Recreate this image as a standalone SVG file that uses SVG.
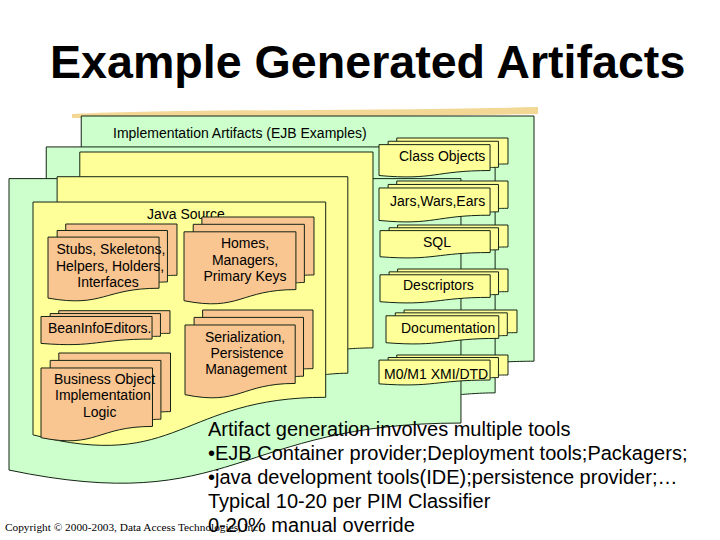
<svg xmlns="http://www.w3.org/2000/svg" xmlns:xlink="http://www.w3.org/1999/xlink" width="720" height="540" viewBox="0 0 720 540">
<style>
  .lbl { font-family: "Liberation Sans", Arial, sans-serif; font-size: 14px; fill: #000; }
  .body { font-family: "Liberation Sans", Arial, sans-serif; font-size: 20px; fill: #000; }
  .title { font-family: "Liberation Sans", Arial, sans-serif; font-size: 46.6px; font-weight: bold; fill: #000; }
  .copy { font-family: "Liberation Serif", "Times New Roman", serif; font-size: 11px; fill: #000; }
  .green { fill: #CCFFCC; }
  .yellow { fill: #FFFF99; }
  .orange { fill: #F9C590; }
  .edge { fill: none; stroke: #142414; stroke-width: 1; vector-effect: non-scaling-stroke; stroke-linejoin: miter; }
</style>
<defs>
  <g id="md">
    <path d="M0,20782 C9298,23542 9298,18022 18595,18022 L18595,3675 L0,3675 Z M1532,3675 L1532,1815 L20000,1815 L20000,16252 C19298,16252 18595,16352 18595,16352 L18595,3675 Z M2972,1815 L2972,0 L21600,0 L21600,14392 C20800,14392 20000,14467 20000,14467 L20000,1815 Z"/>
    <path class="edge" d="M0,3675 L18595,3675 L18595,18022 C9298,18022 9298,23542 0,20782 Z M1532,3675 L1532,1815 L20000,1815 L20000,16252 C19298,16252 18595,16352 18595,16352 M2972,1815 L2972,0 L21600,0 L21600,14392 C20800,14392 20000,14467 20000,14467"/>
  </g>
</defs>
<rect width="720" height="540" fill="#FFFFFF"/>

<g id="title">
  <text class="title" x="50" y="78">Example Generated Artifacts</text>
  <path d="M72,114 C180,109 380,111 538,107 L538,114 C380,117 180,117 72,118 Z" fill="#EDCB70" opacity="0.75"/>
</g>

<g id="impl-artifacts">
  <use xlink:href="#md" class="green" transform="translate(9,116) scale(0.0243056,0.0170370)"/>
  <text class="lbl" x="113" y="138">Implementation Artifacts (EJB Examples)</text>
</g>

<g id="java-source">
  <use xlink:href="#md" class="yellow" transform="translate(33,152) scale(0.0157407,0.0136111)"/>
  <text class="lbl" x="147" y="219">Java Source</text>
</g>

<g id="stubs">
  <use xlink:href="#md" class="orange" transform="translate(48,224) scale(0.0059722,0.0035648)"/>
  <text class="lbl" text-anchor="middle" x="111" y="254">Stubs, Skeletons,</text>
  <text class="lbl" text-anchor="middle" x="110" y="271">Helpers, Holders,</text>
  <text class="lbl" text-anchor="middle" x="108" y="287">Interfaces</text>
</g>

<g id="homes">
  <use xlink:href="#md" class="orange" transform="translate(184,217) scale(0.0060185,0.0040278)"/>
  <text class="lbl" text-anchor="middle" x="245" y="248">Homes,</text>
  <text class="lbl" text-anchor="middle" x="245" y="265">Managers,</text>
  <text class="lbl" text-anchor="middle" x="245" y="281">Primary Keys</text>
</g>

<g id="beaninfo">
  <use xlink:href="#md" class="orange" transform="translate(41,310.7) scale(0.0059722,0.0015741)"/>
  <text class="lbl" x="48" y="333">BeanInfoEditors.</text>
</g>

<g id="business">
  <use xlink:href="#md" class="orange" transform="translate(41,353) scale(0.0059954,0.0040741)"/>
  <text class="lbl" x="54" y="384">Business Object</text>
  <text class="lbl" x="55" y="400">Implementation</text>
  <text class="lbl" x="83" y="417">Logic</text>
</g>

<g id="serialization">
  <use xlink:href="#md" class="orange" transform="translate(185,310) scale(0.0059259,0.0040741)"/>
  <text class="lbl" text-anchor="middle" x="245" y="342">Serialization,</text>
  <text class="lbl" text-anchor="middle" x="247" y="358">Persistence</text>
  <text class="lbl" text-anchor="middle" x="246" y="374">Management</text>
</g>

<g id="class-objects">
  <use xlink:href="#md" class="yellow" transform="translate(379,138) scale(0.0059722,0.0018056)"/>
  <text class="lbl" x="399" y="161">Class Objects</text>
</g>

<g id="jars">
  <use xlink:href="#md" class="yellow" transform="translate(379,181) scale(0.0059722,0.0018981)"/>
  <text class="lbl" x="390" y="206">Jars,Wars,Ears</text>
</g>

<g id="sql">
  <use xlink:href="#md" class="yellow" transform="translate(380,225) scale(0.0059259,0.0015278)"/>
  <text class="lbl" text-anchor="middle" x="437" y="247">SQL</text>
</g>

<g id="descriptors">
  <use xlink:href="#md" class="yellow" transform="translate(380,269) scale(0.0059259,0.0015741)"/>
  <text class="lbl" x="403" y="290">Descriptors</text>
</g>

<g id="documentation">
  <use xlink:href="#md" class="yellow" transform="translate(386,310) scale(0.0060648,0.0015741)"/>
  <text class="lbl" x="401" y="333">Documentation</text>
</g>

<g id="m0m1">
  <use xlink:href="#md" class="yellow" transform="translate(379,355) scale(0.0059722,0.0013889)"/>
  <text class="lbl" x="384" y="379">M0/M1 XMI/DTD</text>
</g>

<g id="connectors"/>

<g id="notes">
  <text class="body" x="208" y="436">Artifact generation involves multiple tools</text>
  <text class="body" x="208" y="460">•EJB Container provider;Deployment tools;Packagers;</text>
  <text class="body" x="208" y="484">•java development tools(IDE);persistence provider;…</text>
  <text class="body" x="208" y="508">Typical 10-20 per PIM Classifier</text>
  <text class="body" x="208" y="532">0-20% manual override</text>
</g>

<g id="copyright">
  <text class="copy" x="5" y="531" textLength="256" lengthAdjust="spacingAndGlyphs">Copyright © 2000-2003, Data Access Technologies, Inc.</text>
</g>
</svg>
